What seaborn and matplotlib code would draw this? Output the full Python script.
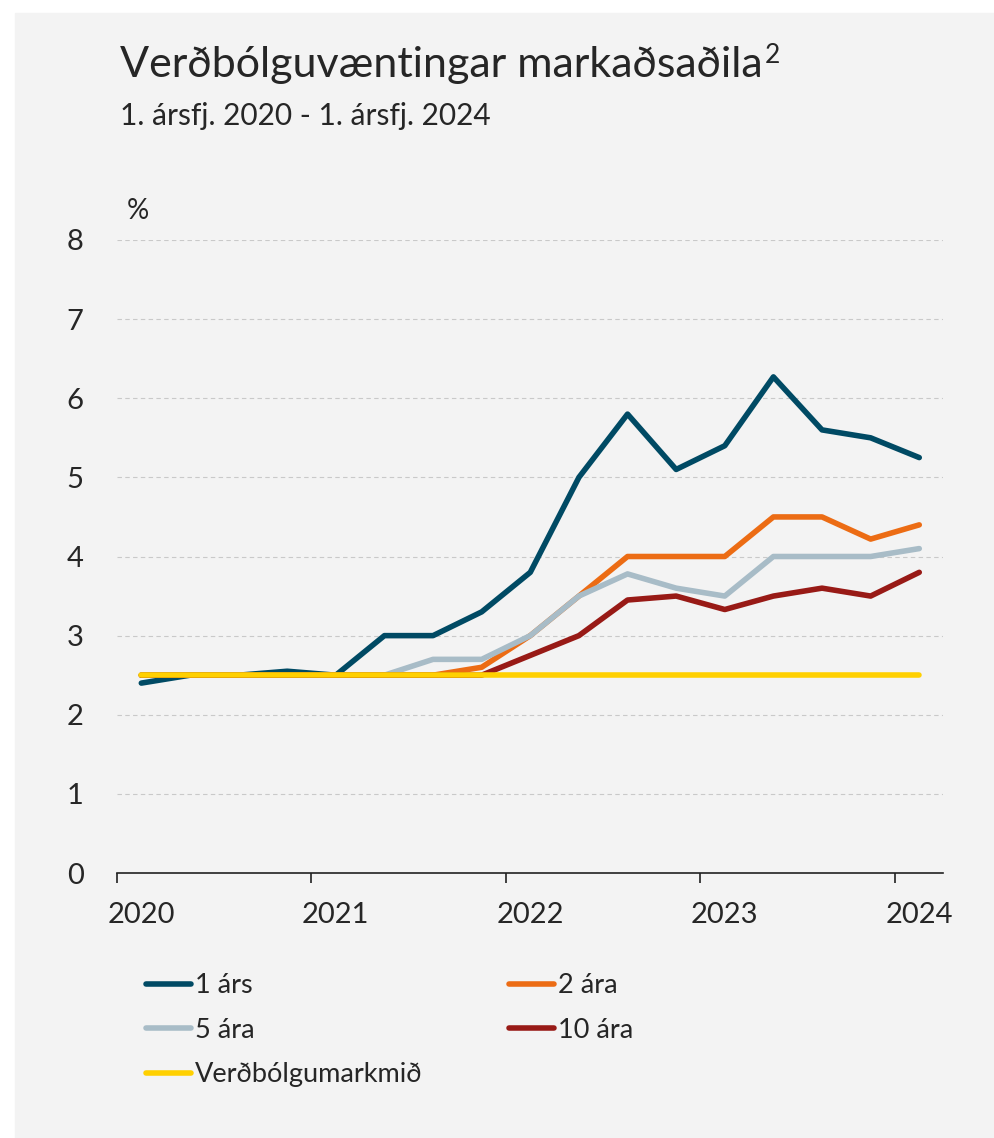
import pandas as pd
import matplotlib.pyplot as plt
import seaborn as sns
from matplotlib.lines import Line2D
from matplotlib.patches import Rectangle

# Quarterly market inflation expectations
quarters = ["2020Q1", "2020Q2", "2020Q3", "2020Q4",
            "2021Q1", "2021Q2", "2021Q3", "2021Q4",
            "2022Q1", "2022Q2", "2022Q3", "2022Q4",
            "2023Q1", "2023Q2", "2023Q3", "2023Q4",
            "2024Q1"]
eins_ars = [2.4, 2.5, 2.5, 2.55, 2.5, 3.0, 3.0, 3.3, 3.8, 5.0, 5.8, 5.1,
            5.4, 6.27, 5.6, 5.5, 5.25]
tveggja_ara = [2.5, 2.5, 2.5, 2.5, 2.5, 2.5, 2.5, 2.6, 3.0, 3.5, 4.0, 4.0,
               4.0, 4.5, 4.5, 4.22, 4.4]
fimm_ara = [2.5, 2.5, 2.5, 2.5, 2.5, 2.5, 2.7, 2.7, 3.0, 3.5, 3.78, 3.6,
            3.5, 4.0, 4.0, 4.0, 4.1]
tiu_ara = [2.5, 2.5, 2.5, 2.5, 2.5, 2.5, 2.5, 2.5, 2.75, 3.0, 3.45, 3.5,
           3.33, 3.5, 3.6, 3.5, 3.8]
markmid = [2.5, 2.5, 2.5, 2.5, 2.5, 2.5, 2.5, 2.5, 2.5, 2.5, 2.5, 2.5,
           2.5, 2.5, 2.5, 2.5, 2.5]

series_names = ["1 árs", "2 ára", "5 ára", "10 ára", "Verðbólgumarkmið"]
series_values = [eins_ars, tveggja_ara, fimm_ara, tiu_ara, markmid]
colors = ["#004a64", "#ec6c14", "#a8bcc7", "#981a16", "#ffd000"]
years = [2020, 2021, 2022, 2023, 2024]
y_ticks = [0, 1, 2, 3, 4, 5, 6, 7, 8]

# quarter -> decimal year at the middle of the quarter
per = pd.PeriodIndex(quarters, freq="Q")
xpos = per.year + (per.quarter - 1) / 4 + 0.125

df = pd.concat([pd.DataFrame({"x": xpos, "value": v, "series": n})
                for n, v in zip(series_names, series_values)])

sns.set_style("white")
plt.rcParams["font.family"] = ["Lato", "DejaVu Sans"]
plt.rcParams["lines.solid_capstyle"] = "round"
plt.rcParams["lines.solid_joinstyle"] = "round"

BG = "#f3f3f3"
fig = plt.figure(figsize=(9.95, 11.38), dpi=100, facecolor="white")
fig.patches.append(Rectangle((15 / 995, 0), 1, 1 - 13 / 1138,
                             transform=fig.transFigure, color=BG, zorder=-1))
ax = fig.add_axes([117 / 995, 1 - 873 / 1138, (943 - 117) / 995, (873 - 240) / 1138])
ax.set_facecolor(BG)

sns.lineplot(data=df, x="x", y="value", hue="series", hue_order=series_names,
             palette=dict(zip(series_names, colors)), linewidth=4,
             legend=False, ax=ax, zorder=3)

ax.set_xlim(2020, 2024.247)
ax.set_ylim(0, 8)
ax.set_xlabel("")
ax.set_ylabel("")

# year boundaries get tick marks, labels sit under the first quarter
ax.set_xticks(years, labels=[""] * len(years))
ax.set_xticks([y + 0.125 for y in years], labels=[str(y) for y in years], minor=True)
ax.tick_params(axis="x", which="major", length=7, width=1.2, color="#222222",
               direction="out", bottom=True)
ax.tick_params(axis="x", which="minor", length=0, pad=21, labelsize=21)
ax.set_yticks(y_ticks)
ax.tick_params(axis="y", length=0, pad=24, labelsize=21)

ax.grid(axis="y", color="#c9c9c9", linestyle=(0, (4, 3)), linewidth=0.8, zorder=0)
ax.set_axisbelow(True)
for s in ["left", "right", "top"]:
    ax.spines[s].set_visible(False)
ax.spines["bottom"].set_color("#222222")
ax.spines["bottom"].set_linewidth(1.2)

title = fig.text(120 / 995, 1 - 77 / 1138, "Verðbólguvæntingar markaðsaðila",
                 fontsize=31, va="baseline", ha="left")
fig.text(120 / 995, 1 - 125 / 1138, "1. ársfj. 2020 - 1. ársfj. 2024",
         fontsize=21.5, va="baseline", ha="left")
fig.text(127 / 995, 1 - 219 / 1138, "%", fontsize=20, va="baseline", ha="left")

# footnote marker as a raised, smaller "2" right after the title
fig.canvas.draw()
bb = title.get_window_extent()
fig.text((bb.x1 + 2) / 995, 1 - 63 / 1138, "2", fontsize=19, va="baseline", ha="left")

# legend: two columns, filled column by column
order = [0, 2, 4, 1, 3]
handles = [Line2D([0], [0], color=colors[i], linewidth=4) for i in order]
labels = [series_names[i] for i in order]
fig.legend(handles, labels, loc="upper left", bbox_to_anchor=(146 / 995, 1 - 973 / 1138),
           ncol=2, frameon=False, fontsize=19.5, handlelength=1.65, handletextpad=0.15,
           columnspacing=3.2, labelspacing=0.72, borderpad=0, borderaxespad=0)

fig.savefig("out.png", dpi=100, facecolor=fig.get_facecolor())
